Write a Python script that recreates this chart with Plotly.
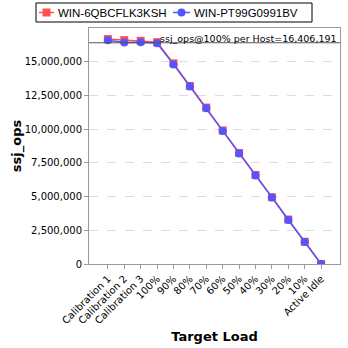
import plotly.graph_objects as go

categories = ["Calibration 1", "Calibration 2", "Calibration 3", "100%", "90%", "80%", "70%",
              "60%", "50%", "40%", "30%", "20%", "10%", "Active Idle"]
host_a_name = "WIN-6QBCFLK3KSH"
host_a = [16680000, 16600000, 16550000, 16450000, 14880000, 13200000, 11600000,
          9900000, 8230000, 6600000, 4950000, 3300000, 1650000, 0]
host_b_name = "WIN-PT99G0991BV"
host_b = [16600000, 16430000, 16450000, 16360000, 14800000, 13170000, 11540000,
          9860000, 8200000, 6570000, 4940000, 3260000, 1630000, 0]
ref_value = 16406191
y_ticks = [0, 2500000, 5000000, 7500000, 10000000, 12500000, 15000000]

RED = "#ff5050"
BLUE = "#5555ff"
FONT = "DejaVu Sans"
LEG_FONT = "Liberation Sans"

W, H = 348, 348
ML, MR, MT, MB = 89, 8, 28, 84
PW, PH = W - ML - MR, H - MT - MB


def px(xp):
    return (xp - ML) / PW


def py(yp):
    return (H - MB - yp) / PH


x = list(range(len(categories)))

fig = go.Figure()
fig.add_trace(go.Scatter(x=x, y=host_a, name=host_a_name, mode="lines+markers",
                         line=dict(color=RED, width=1.5),
                         marker=dict(symbol="square", size=8, color=RED)))
fig.add_trace(go.Scatter(x=x, y=host_b, name=host_b_name, mode="lines+markers",
                         line=dict(color=BLUE, width=1.5),
                         marker=dict(symbol="circle", size=8, color=BLUE)))

fig.add_shape(type="line", xref="paper", x0=0, x1=1, yref="y", y0=ref_value, y1=ref_value,
              line=dict(color="#555555", width=1))
fig.add_annotation(xref="paper", x=1, xanchor="right", yref="y", y=ref_value, yanchor="bottom",
                   text="ssj_ops@100% per Host=16,406,191", showarrow=False,
                   font=dict(family=FONT, size=9.5, color="black"), yshift=-3, xshift=-1)

# legend box (drawn manually to match compact layout)
fig.add_shape(type="rect", xref="paper", yref="paper", x0=px(36), x1=px(312), y0=py(22), y1=py(3),
              line=dict(color="black", width=1), fillcolor="white", layer="above")
cy = 12.5
legend_items = [(host_a_name, RED, "square", 39, 54), (host_b_name, BLUE, "circle", 173, 190)]
for name, color, sym, lx0, lx1 in legend_items:
    fig.add_shape(type="line", xref="paper", yref="paper", x0=px(lx0), x1=px(lx1), y0=py(cy), y1=py(cy),
                  line=dict(color=color, width=1.5), layer="above")
    mx = (lx0 + lx1) / 2
    fig.add_shape(type=("rect" if sym == "square" else "circle"), xref="paper", yref="paper",
                  x0=px(mx - 4), x1=px(mx + 4), y0=py(cy + 4), y1=py(cy - 4),
                  line=dict(color=color, width=0), fillcolor=color, layer="above")
    fig.add_annotation(xref="paper", yref="paper", x=px(lx1 + 2), y=py(cy), xanchor="left", yanchor="middle",
                       text=name, showarrow=False, font=dict(family=LEG_FONT, size=11.5, color="black"))

fig.update_layout(
    width=W, height=H,
    margin=dict(l=ML, r=MR, t=MT, b=MB, autoexpand=False),
    paper_bgcolor="white", plot_bgcolor="white",
    font=dict(family=FONT, size=10, color="black"),
    showlegend=False,
    xaxis=dict(tickmode="array", tickvals=x, ticktext=categories, tickangle=-45,
               range=[-1.15, 14.15], showgrid=False, zeroline=False, automargin=False,
               showline=True, linecolor="#999999", mirror=True,
               ticks="outside", ticklen=4, tickcolor="#999999",
               tickfont=dict(family=FONT, size=10),
               title=dict(text="<b>Target Load</b>", font=dict(family=FONT, size=13), standoff=6)),
    yaxis=dict(tickmode="array", tickvals=y_ticks, tickformat=",d",
               range=[0, 17500000], showgrid=True, gridcolor="#dddddd", griddash="dash",
               zeroline=False, automargin=False, showline=True, linecolor="#999999", mirror=True,
               ticks="outside", ticklen=4, tickcolor="#999999",
               tickfont=dict(family=FONT, size=10),
               title=dict(text="<b>ssj_ops</b>", font=dict(family=FONT, size=13), standoff=0)),
)

fig.write_html("out.html")
